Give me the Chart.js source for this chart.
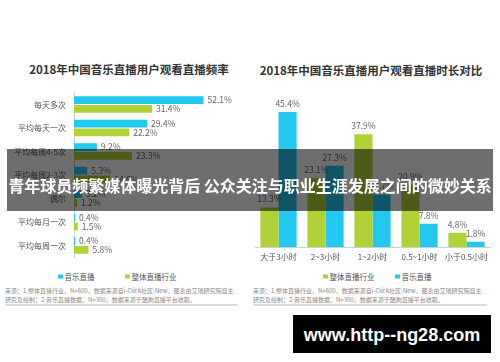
<!DOCTYPE html>
<html>
<head>
<meta charset="utf-8">
<script src="https://cdn.jsdelivr.net/npm/chart.js@4.4.0/dist/chart.umd.min.js"></script>
<style>
  body { margin: 0; width: 500px; height: 362px; background: #fff; position: relative; overflow: hidden;
         font-family: "Noto Sans CJK SC", sans-serif; }
  canvas { position: absolute; }
  .title { position: absolute; font-weight: bold; color: #333; font-size: 11.5px; white-space: nowrap;
           transform: translate(-50%, -50%); }
  .legend { position: absolute; font-size: 7.5px; color: #555; white-space: nowrap; transform: translateY(-50%); }
  .legend i { display: inline-block; width: 4.5px; height: 4.5px; margin-right: 2px; vertical-align: 1px; }
  .source { position: absolute; font-size: 6px; line-height: 8.5px; color: #888; white-space: nowrap; }
  .rule { position: absolute; height: 2px; background: #dcdcdc; }
  .banner { position: absolute; left: 7px; top: 149px; width: 486px; height: 62px; background: rgba(0,0,0,0.57);
            color: #fff; font-weight: bold; font-size: 16px; text-align: center; line-height: 72px; white-space: nowrap; }
  .mark { position: absolute; left: 293px; top: 315px; width: 198px; height: 38px; background: #000; color: #fff;
          font-family: "Liberation Sans", sans-serif; font-weight: bold; font-size: 18px; text-align: center; line-height: 40px; }
</style>
</head>
<body>
<div class="title" style="left:129px;top:69px">2018年中国音乐直播用户观看直播频率</div>
<div class="title" style="left:371px;top:70px">2018年中国音乐直播用户观看直播时长对比</div>
<canvas id="freq-chart" width="250" height="190" style="left:0;top:80px"></canvas>
<canvas id="time-chart" width="250" height="180" style="left:250px;top:90px"></canvas>
<div id="legend-left"></div>
<div id="legend-right"></div>
<div class="source" style="left:5px;top:287px">来源：1.整体直播行业，N=600，数据来源自i-Click社区-New，图表由艾瑞研究院自主<br>研究及绘制；2.音乐直播数据，N=300，数据来源于酷狗直播平台收取。</div>
<div class="source" style="left:253px;top:287px">来源：1.整体直播行业，N=600，数据来源自i-Click社区-New，图表由艾瑞研究院自主<br>研究及绘制；2.音乐直播数据，N=300，数据来源于酷狗直播平台收取。</div>
<div class="rule" style="left:5px;top:304px;width:233px"></div>
<div class="rule" style="left:253px;top:304px;width:234px"></div>
<div class="banner">青年球员频繁媒体曝光背后 公众关注与职业生涯发展之间的微妙关系</div>
<div class="mark">www.http--ng28.com</div>

<script>
const blue = '#22c8f0';
const green = '#b1d236';
const musicName = '音乐直播';
const industryName = '整体直播行业';

// frequency chart
const freqLabels = ['每天多次', '平均每天一次', '平均每周4-5次', '平均每周2-3次', '偶尔', '平均每月一次', '平均每周一次'];
const freqMusic = [52.1, 29.4, 9.2, 5.3, 3.2, 0.4, 0.4];
const freqIndustry = [31.4, 22.2, 23.3, 14.6, 1.2, 1.5, 5.8];

// duration chart
const timeLabels = ['大于3小时', '2~3小时', '1~2小时', '0.5~1小时', '小于0.5小时'];
const timeIndustry = [13.3, 23.1, 37.9, 20.9, 4.8];
const timeMusic = [45.4, 27.3, 17.7, 7.8, 1.8];

Chart.defaults.font.family = '"Noto Sans CJK SC", sans-serif';
Chart.defaults.animation = false;

// value labels next to / above bars
const valueLabels = {
  id: 'valueLabels',
  afterDatasetsDraw(chart) {
    const ctx = chart.ctx;
    const horiz = chart.options.indexAxis === 'y';
    ctx.save();
    ctx.font = '8.5px "Noto Sans CJK SC", sans-serif';
    ctx.fillStyle = '#666';
    chart.data.datasets.forEach((ds, i) => {
      chart.getDatasetMeta(i).data.forEach((bar, j) => {
        const t = ds.data[j].toFixed(1) + '%';
        if (horiz) {
          ctx.textAlign = 'left';
          ctx.textBaseline = 'middle';
          ctx.fillText(t, bar.x + 4, bar.y);
        } else {
          ctx.textAlign = 'center';
          ctx.textBaseline = 'bottom';
          ctx.fillText(t, bar.x, bar.y - 4);
        }
      });
    });
    ctx.restore();
  }
};

let freqChart = new Chart(document.getElementById('freq-chart'), {
  type: 'bar',
  data: {
    labels: freqLabels,
    datasets: [
      { label: musicName, data: freqMusic, backgroundColor: blue, categoryPercentage: 0.74, barPercentage: 0.9 },
      { label: industryName, data: freqIndustry, backgroundColor: green, categoryPercentage: 0.74, barPercentage: 0.9 }
    ]
  },
  options: {
    indexAxis: 'y',
    responsive: false,
    layout: { padding: { top: 3.5, right: 2, bottom: 4.5, left: 0 } },
    scales: {
      x: { min: 0, max: 70, display: false },
      y: {
        grid: { display: false, drawTicks: false },
        border: { color: '#d0d0d0' },
        ticks: { color: '#555', font: { size: 8 }, padding: 8 },
        afterFit: s => { s.width = 74; }
      }
    },
    plugins: { legend: { display: false }, tooltip: { enabled: false } }
  },
  plugins: [valueLabels]
});

let timeChart = new Chart(document.getElementById('time-chart'), {
  type: 'bar',
  data: {
    labels: timeLabels,
    datasets: [
      { label: industryName, data: timeIndustry, backgroundColor: green, categoryPercentage: 0.77, barPercentage: 1 },
      { label: musicName, data: timeMusic, backgroundColor: blue, categoryPercentage: 0.77, barPercentage: 1 }
    ]
  },
  options: {
    responsive: false,
    layout: { padding: { top: 8.4, right: 10, bottom: 0, left: 5 } },
    scales: {
      y: { min: 0, max: 50, display: false },
      x: {
        grid: { display: false, drawTicks: false },
        border: { color: '#d0d0d0' },
        ticks: { color: '#555', font: { size: 8 }, padding: 5, maxRotation: 0 },
        afterFit: s => { s.height = 23; }
      }
    },
    plugins: { legend: { display: false }, tooltip: { enabled: false } }
  },
  plugins: [valueLabels]
});

// html legends built from the dataset names and colours
function makeLegend(id, chart, xs) {
  const box = document.getElementById(id);
  chart.data.datasets.forEach((ds, i) => {
    const d = document.createElement('div');
    d.className = 'legend';
    d.style.left = xs[i] + 'px';
    d.style.top = '276px';
    d.innerHTML = '<i style="background:' + ds.backgroundColor + '"></i>' + ds.label;
    box.appendChild(d);
  });
}
makeLegend('legend-left', freqChart, [58, 125]);
makeLegend('legend-right', timeChart, [323, 395]);
</script>
</body>
</html>
